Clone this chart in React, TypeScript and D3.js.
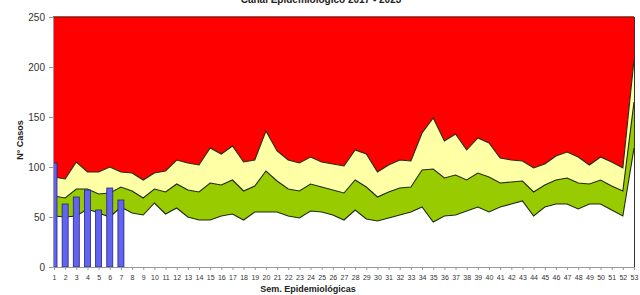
import React, { useEffect, useRef } from 'react';
import * as d3 from 'd3';

// epidemiological weeks 1..53
const weeks = d3.range(1, 54);

// zone limits (success/safety/alert/epidemic)
const lowerLimit = [51, 50, 51, 58, 54, 50, 60, 54, 52, 64, 53, 59, 50, 47, 47, 51, 53, 47, 55, 55, 55, 51, 49, 56, 55, 52, 47, 57, 48, 46, 49, 52, 55, 60, 45, 51, 52, 56, 60, 55, 60, 63, 66, 51, 60, 63, 63, 58, 63, 63, 57, 51, 119];
const medianLimit = [71, 69, 78, 78, 73, 74, 80, 76, 69, 78, 75, 83, 77, 75, 84, 82, 87, 76, 81, 96, 86, 78, 76, 83, 80, 77, 74, 87, 80, 70, 75, 79, 80, 97, 98, 89, 92, 87, 94, 90, 84, 85, 86, 75, 82, 87, 89, 84, 83, 87, 81, 76, 165];
const upperLimit = [90, 88, 105, 95, 95, 100, 95, 94, 87, 94, 96, 107, 104, 102, 119, 113, 121, 105, 107, 136, 116, 107, 104, 110, 105, 103, 101, 117, 113, 95, 102, 107, 106, 134, 149, 126, 133, 117, 129, 124, 109, 107, 106, 99, 103, 111, 115, 110, 102, 110, 105, 99, 207];
const epidemicTop = 250;

// cases of the current year
const caseWeeks = [1, 2, 3, 4, 5, 6, 7];
const cases = [104, 63, 70, 77, 57, 79, 67];

const yTicks = [0, 50, 100, 150, 200, 250];

const App = () => {
    const svgRef = useRef<SVGSVGElement>(null);

    useEffect(() => {
        const svg = d3.select(svgRef.current);
        svg.selectAll("*").remove();

        const left = 53, right = 634, top = 17, bottom = 267;

        const x = d3.scaleLinear().domain([1, 53]).range([left + 1, right]);
        const y = d3.scaleLinear().domain([0, 250]).range([bottom, top]);

        svg.append("defs").append("clipPath").attr("id", "plotClip")
            .append("rect")
            .attr("x", left).attr("y", top)
            .attr("width", right - left).attr("height", bottom - top);

        const plot = svg.append("g").attr("clip-path", "url(#plotClip)");

        const band = (lo: (i: number) => number, hi: (i: number) => number) =>
            d3.area<number>()
                .x(d => x(d))
                .y0((d, i) => y(lo(i)))
                .y1((d, i) => y(hi(i)));

        // epidemic zone
        plot.append("path")
            .datum(weeks)
            .attr("d", band(i => upperLimit[i], () => epidemicTop))
            .attr("fill", "#ff0000");
        // alert zone
        plot.append("path")
            .datum(weeks)
            .attr("d", band(i => medianLimit[i], i => upperLimit[i]))
            .attr("fill", "#ffffa6");
        // safety zone
        plot.append("path")
            .datum(weeks)
            .attr("d", band(i => lowerLimit[i], i => medianLimit[i]))
            .attr("fill", "#99cc00");

        const line = (vals: number[]) => d3.line<number>().x(d => x(d)).y((d, i) => y(vals[i]));
        [lowerLimit, medianLimit, upperLimit].forEach(vals => {
            plot.append("path")
                .datum(weeks)
                .attr("d", line(vals))
                .attr("fill", "none")
                .attr("stroke", "#1e2a10")
                .attr("stroke-width", 1.1);
        });

        // top of epidemic zone
        svg.append("line")
            .attr("x1", left).attr("x2", right)
            .attr("y1", y(epidemicTop)).attr("y2", y(epidemicTop))
            .attr("stroke", "#8a1a10").attr("stroke-width", 1.5);

        // current year bars
        const barW = 6;
        plot.selectAll("rect.bar")
            .data(caseWeeks)
            .join("rect")
            .attr("class", "bar")
            .attr("x", d => x(d) - barW / 2)
            .attr("y", (d, i) => y(cases[i]))
            .attr("width", barW)
            .attr("height", (d, i) => y(0) - y(cases[i]))
            .attr("fill", "#6363f2")
            .attr("stroke", "#23237a")
            .attr("stroke-width", 0.8);

        // right border
        svg.append("line")
            .attr("x1", right + 0.5).attr("x2", right + 0.5)
            .attr("y1", top).attr("y2", bottom)
            .attr("stroke", "#333").attr("stroke-width", 1);

        // y axis
        const yAxis = svg.append("g")
            .attr("transform", `translate(${left},0)`)
            .call(d3.axisLeft(y).tickValues(yTicks).tickSize(4).tickPadding(4));
        yAxis.select(".domain").attr("stroke", "#999");
        yAxis.selectAll(".tick line").attr("stroke", "#999");
        yAxis.selectAll("text")
            .attr("font-family", "Liberation Sans, Arial, sans-serif")
            .attr("font-size", 10)
            .attr("fill", "#333");

        // x axis
        const xAxis = svg.append("g")
            .attr("transform", `translate(0,${bottom})`)
            .call(d3.axisBottom(x).tickValues(weeks).tickFormat(d3.format("d")).tickSize(3).tickPadding(5));
        xAxis.select(".domain").attr("stroke", "#999");
        xAxis.selectAll(".tick line").attr("stroke", "#999");
        xAxis.selectAll("text")
            .attr("font-family", "Liberation Sans, Arial, sans-serif")
            .attr("font-size", 7)
            .attr("fill", "#333");

        svg.append("text")
            .attr("text-anchor", "middle")
            .attr("x", 308)
            .attr("y", 292)
            .attr("font-family", "Liberation Sans, Arial, sans-serif")
            .attr("font-size", 9)
            .attr("font-weight", "bold")
            .attr("fill", "#222")
            .text("Sem. Epidemiológicas");

        svg.append("text")
            .attr("text-anchor", "middle")
            .attr("transform", "rotate(-90)")
            .attr("x", -140)
            .attr("y", 23)
            .attr("font-family", "Liberation Sans, Arial, sans-serif")
            .attr("font-size", 9)
            .attr("font-weight", "bold")
            .attr("fill", "#222")
            .text("N° Casos");

        svg.append("text")
            .attr("text-anchor", "middle")
            .attr("x", 321)
            .attr("y", 3)
            .attr("font-family", "Liberation Sans, Arial, sans-serif")
            .attr("font-size", 10)
            .attr("font-weight", "bold")
            .attr("fill", "#222")
            .text("Canal Epidemiológico 2017 - 2023");
    }, []);

    return (
        <svg ref={svgRef} width="640" height="295"
            style={{ position: 'absolute', left: 0, top: 0, background: '#fff' }}></svg>
    );
};

export default App;
